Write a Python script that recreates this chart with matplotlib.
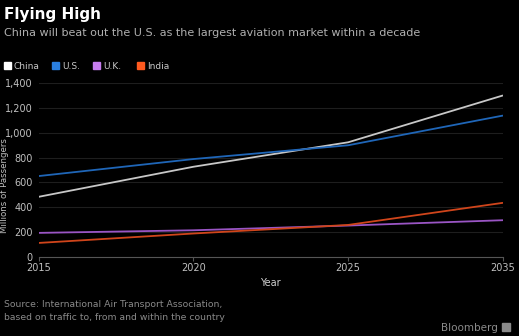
import matplotlib.pyplot as plt
from matplotlib.patches import Rectangle

years = ["2015", "2020", "2025", "2035"]
china = [484, 726, 923, 1300]
us = [651, 788, 899, 1138]
uk = [194, 215, 253, 296]
india = [113, 189, 258, 436]

series = [
    ("China", china, "#c8c8c8", "#ffffff"),
    ("U.S.", us, "#1f66b8", "#2a7fe0"),
    ("U.K.", uk, "#9a55c4", "#c77ef0"),
    ("India", india, "#d0451b", "#ff5a1f"),
]
yticks = [0, 200, 400, 600, 800, 1000, 1200, 1400]

W, H = 519, 336
fig = plt.figure(figsize=(W / 100, H / 100), dpi=100, facecolor="black")
ax = fig.add_axes([38.5 / W, 1 - 257 / H, (503 - 38.5) / W, (257 - 83) / H])
ax.set_facecolor("black")

x = range(len(years))
for name, vals, col, _ in series:
    ax.plot(x, vals, color=col, lw=1.3, solid_capstyle="butt")

ax.set_xlim(0, len(years) - 1)
ax.set_ylim(0, 1400)
ax.set_xticks(list(x))
ax.set_xticklabels(years)
ax.set_yticks(yticks)
ax.set_yticklabels([f"{v:,}" for v in yticks])
ax.grid(axis="y", color="#1e1e1e", lw=0.8)
ax.set_axisbelow(True)
for s in ["top", "right", "left"]:
    ax.spines[s].set_visible(False)
ax.spines["bottom"].set_color("#555555")
ax.tick_params(axis="x", colors="#555555", length=3, labelcolor="#c0c0c0",
               labelsize=7, pad=1)
ax.tick_params(axis="y", length=0, labelcolor="#c0c0c0", labelsize=7, pad=4)
ax.set_xlabel("Year", color="#d0d0d0", fontsize=7, labelpad=4)
ax.set_ylabel("Millions of Passengers", color="#c0c0c0", fontsize=6.2)
ax.yaxis.set_label_coords(-29 / (503 - 38.5), 0.41)

fig.text(4 / W, 1 - 19 / H, "Flying High", color="white", fontsize=11,
         fontweight="bold")
fig.text(4 / W, 1 - 36 / H, "China will beat out the U.S. as the largest aviation market within a decade",
         color="#b0b0b0", fontsize=8)

# legend swatches
lx = [4, 52, 93, 137]
for (name, _, _, sw), px in zip(series, lx):
    fig.patches.append(Rectangle((px / W, 1 - 69 / H), 7 / W, 7 / H,
                                 transform=fig.transFigure, color=sw))
    fig.text((px + 10) / W, 1 - 69 / H, name, color="#c8c8c8", fontsize=6.5)

fig.text(4 / W, 1 - 307 / H, "Source: International Air Transport Association,",
         color="#8a8a8a", fontsize=6.7)
fig.text(4 / W, 1 - 320 / H, "based on traffic to, from and within the country",
         color="#8a8a8a", fontsize=6.7)
fig.text(498 / W, 1 - 331 / H, "Bloomberg", color="#8a8a8a", fontsize=7.5,
         ha="right")
fig.patches.append(Rectangle((502 / W, 1 - 331 / H), 8 / W, 8 / H,
                             transform=fig.transFigure, color="#8a8a8a"))

fig.savefig("out.png", dpi=100, facecolor="black")
